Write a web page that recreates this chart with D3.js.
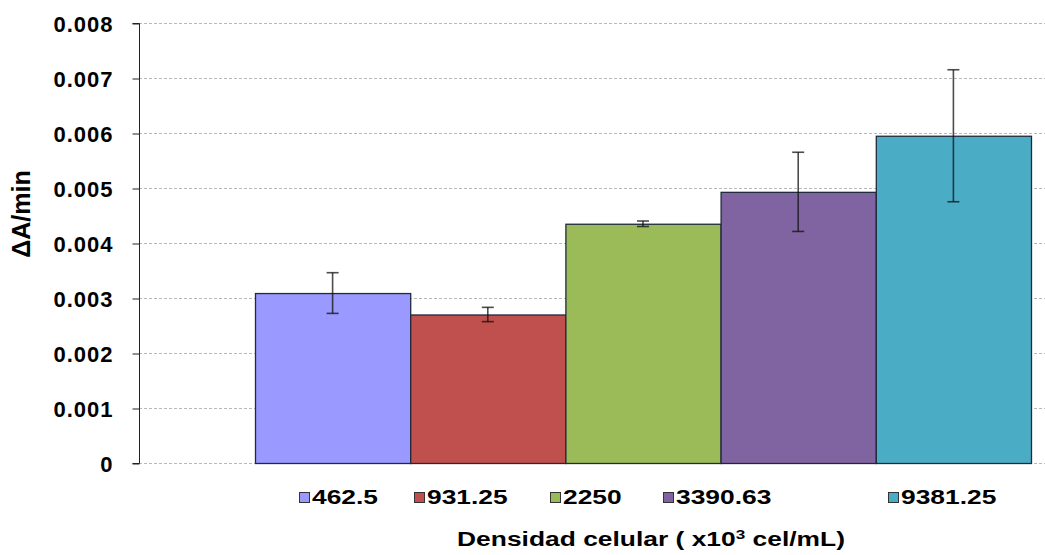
<!DOCTYPE html>
<html>
<head>
<meta charset="utf-8">
<script src="https://cdn.jsdelivr.net/npm/d3@7"></script>
<style>
  body { margin: 0; background: #fff; }
  text { font-family: "Liberation Sans", Arial, sans-serif; font-weight: bold; fill: #000; }
</style>
</head>
<body>
<svg id="chart" width="1045" height="555"></svg>
<script>
// series (one category, five cell densities)
const series = ['462.5', '931.25', '2250', '3390.63', '9381.25'];
const values = [0.00309, 0.00270, 0.00435, 0.00493, 0.00595];
const errors = [0.00037, 0.00013, 0.00005, 0.00072, 0.00120];
const colors = ['#9999FF', '#C0504D', '#9BBB59', '#8064A2', '#4BACC6'];
const yTicks = [0, 0.001, 0.002, 0.003, 0.004, 0.005, 0.006, 0.007, 0.008];

const svg = d3.select('#chart');
const plot = {left: 139, right: 1045, top: 23, bottom: 463};
const stretch = 1.32; // the bottom texts are drawn wide in the original

let y = d3.scaleLinear().domain([0, 0.008]).range([plot.bottom, plot.top]);
let x = d3.scaleBand().domain(series).range([255, 1031]).padding(0);

// grid lines
svg.append('g').selectAll('line')
    .data(yTicks)
    .join('line')
    .attr('x1', plot.left).attr('x2', plot.right)
    .attr('y1', d => y(d) + 0.5).attr('y2', d => y(d) + 0.5)
    .attr('stroke', '#b8b8b8')
    .attr('stroke-dasharray', '3,2');

// y axis
let yAxis = d3.axisLeft(y)
    .tickValues(yTicks)
    .tickSize(7)
    .tickPadding(19)
    .tickFormat(d => d === 0 ? '0' : d3.format('.3f')(d));
let gy = svg.append('g')
    .attr('transform', `translate(${plot.left + 0.5},0.5)`)
    .call(yAxis);
gy.select('.domain').attr('stroke', '#222').attr('d', `M-7,${plot.top}H0V${plot.bottom}H-7`);
gy.selectAll('.tick line').attr('stroke', '#222');
gy.selectAll('.tick text')
    .style('font-size', '22px')
    .style('letter-spacing', '1px')
    .attr('dy', '0.36em');

// bars
svg.append('g').selectAll('rect')
    .data(series)
    .join('rect')
    .attr('x', d => x(d) + 0.5)
    .attr('y', (d, i) => y(values[i]) + 0.5)
    .attr('width', x.bandwidth())
    .attr('height', (d, i) => y(0) - y(values[i]))
    .attr('fill', (d, i) => colors[i])
    .attr('stroke', '#1f2a3a')
    .attr('stroke-width', 1.3);

// error bars
let eb = svg.append('g').selectAll('g')
    .data(series)
    .join('g')
    .attr('stroke', '#111')
    .attr('stroke-opacity', 0.75)
    .attr('stroke-width', 1.6);
eb.append('line')
    .attr('x1', d => x(d) + x.bandwidth() / 2).attr('x2', d => x(d) + x.bandwidth() / 2)
    .attr('y1', (d, i) => y(values[i] + errors[i])).attr('y2', (d, i) => y(values[i] - errors[i]));
[1, -1].forEach(s => {
    eb.append('line')
        .attr('x1', d => x(d) + x.bandwidth() / 2 - 6).attr('x2', d => x(d) + x.bandwidth() / 2 + 6)
        .attr('y1', (d, i) => y(values[i] + s * errors[i])).attr('y2', (d, i) => y(values[i] + s * errors[i]));
});

// y title
svg.append('text')
    .attr('transform', 'translate(30,214) rotate(-90)')
    .attr('text-anchor', 'middle')
    .style('font-size', '25px')
    .text('\u0394A/min');

// legend
const legendX = [299, 414, 550, 663, 888];
let lg = svg.append('g').selectAll('g')
    .data(series)
    .join('g')
    .attr('transform', (d, i) => `translate(${legendX[i]},490)`);
lg.append('rect')
    .attr('x', 0.5).attr('y', 2.5)
    .attr('width', 10).attr('height', 10)
    .attr('fill', (d, i) => colors[i])
    .attr('stroke', '#333');
lg.append('text')
    .attr('transform', `translate(13,14) scale(${stretch},1)`)
    .style('font-size', '20px')
    .text(d => d);

// x title
let xt = svg.append('text')
    .attr('transform', `translate(651,546) scale(${stretch},1)`)
    .attr('text-anchor', 'middle')
    .style('font-size', '20px');
xt.append('tspan').text('Densidad celular ( x10');
xt.append('tspan').attr('dy', -7).style('font-size', '13px').text('3');
xt.append('tspan').attr('dy', 7).text(' cel/mL)');
</script>
</body>
</html>
